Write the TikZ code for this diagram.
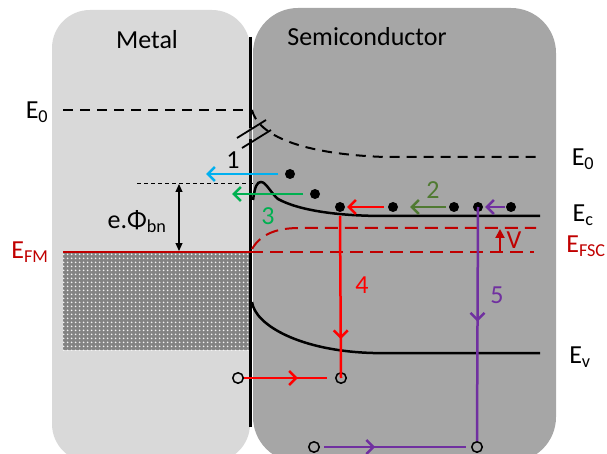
\documentclass[tikz,border=0pt]{standalone}
\usepackage{fontspec}
\setmainfont{Carlito}
\usetikzlibrary{arrows.meta,patterns.meta,decorations.markings}
\definecolor{metalgray}{HTML}{D9D9D9}
\definecolor{semigray}{HTML}{A6A6A6}
\definecolor{dotgray}{HTML}{838383}
\definecolor{darkred}{HTML}{C00000}
\definecolor{brightred}{HTML}{FF0000}
\definecolor{cyanarr}{HTML}{00B0F0}
\definecolor{greenarr}{HTML}{00B050}
\definecolor{dkgreen}{HTML}{507A32}
\definecolor{purplearr}{HTML}{7030A0}
\tikzdeclarepattern{name=mydots, type=uncolored,
  bounding box={(-2pt,-2pt) and (2pt,2pt)}, tile size={(4pt,4pt)},
  code={\fill (0pt,0pt) circle (1.2pt);}}
\begin{document}
\begin{tikzpicture}[x=1pt,y=-1pt,
  lbl/.style={font=\fontsize{26}{29}\selectfont, inner sep=0pt},
  electron/.style={circle,fill=black,inner sep=0pt,minimum size=10pt},
  hole/.style={circle,draw=black,line width=1.5pt,inner sep=0pt,minimum size=10.5pt},
  barb/.style={-{Straight Barb[length=7pt,width=14pt]}},
  midbarb/.style={postaction={decorate},decoration={markings,
      mark=at position #1 with {\arrow{Straight Barb[length=7pt,width=14pt]}}}},
  band/.style={line width=2.5pt},
  vac/.style={line width=2pt,dash pattern=on 10pt off 7pt},
  fermi/.style={darkred,line width=2pt,dash pattern=on 13pt off 7pt},
  carrier/.style={line width=2.5pt}
]
\useasboundingbox (0,0) rectangle (607,454);
\begin{scope}
\clip (0,0) rectangle (607,454);
% boxes
\fill[metalgray, rounded corners=38pt] (52,10) rectangle (250,462);
\fill[semigray, rounded corners=45pt] (253,8) rectangle (556,462);
\end{scope}
% metal filled states
\fill[dotgray] (63,253) rectangle (250,350);
\fill[pattern=mydots, pattern color=white!90!dotgray] (63,253) rectangle (250,350);
% interface
\draw[line width=3pt] (250,37) -- (250,427);
\draw[line width=3pt, gray] (250,128) -- (250,139);
\draw[line width=1.8pt] (237,138) -- (266,120);
\draw[line width=1.8pt] (242,148) -- (271,130);
% labels
\node[lbl] (metal) at (147,40) {Metal};
\node[lbl] (semi) at (367,37) {Semiconductor};
\node[lbl] (e0m) at (37,112) {E\textsubscript{0}};
\node[lbl] (e0s) at (583,159) {E\textsubscript{0}};
\node[lbl] (ec) at (583,215) {E\textsubscript{c}};
\node[lbl,text=darkred] (efsc) at (586,246) {E\textsubscript{FSC}};
\node[lbl] (ev) at (580,357) {E\textsubscript{v}};
\node[lbl,text=darkred] (efm) at (30,252) {E\textsubscript{FM}};
\node[lbl] (phi) at (137,222) {e.Φ\textsubscript{bn}};
% vacuum levels
\draw[vac] (63,110) -- (250,110);
\draw[vac] (252,110) .. controls (258,135) and (300,154) .. (385,157) -- (540,157);
% barrier reference
\draw[line width=0.8pt, dash pattern=on 4pt off 3pt] (137,183) -- (253,183);
\coordinate (phitop) at (179,184);
\coordinate (phibot) at (179,251);
\draw[line width=1.2pt, {Triangle[length=8pt,width=7pt]}-{Triangle[length=8pt,width=7pt]}] (phitop) -- (phibot);
% metal Fermi level
\draw[darkred, line width=2.5pt] (63,252) -- (250,252);
% semiconductor Fermi levels
\draw[fermi] (250,252) -- (534,252);
\draw[fermi] (252,249) .. controls (262,232) and (280,228) .. (300,228) -- (536,228);
% bands
\draw[band] (253,200) .. controls (255,186) and (257,182) .. (261,182)
  .. controls (266,182) and (270,192) .. (278,199)
  .. controls (300,211) and (340,216) .. (385,216) -- (540,216);
\draw[band] (252,302) .. controls (255,325) and (300,351) .. (373,353) -- (540,353);
% V
\coordinate (vbot) at (500,252);
\coordinate (vtop) at (500,229);
\draw[darkred, line width=2pt, -{Triangle[length=9pt,width=9pt]}] (vbot) -- (vtop);
\node[lbl,text=darkred] (nV) at (514,240) {V};
% electrons
\node[electron] (e1) at (290,174) {};
\node[electron] (e2) at (315,194) {};
\node[electron] (e3) at (340,207) {};
\node[electron] (e4) at (393,207) {};
\node[electron] (e5) at (454,207) {};
\node[electron] (e6) at (478,207) {};
\node[electron] (e7) at (511,207) {};
% holes
\node[hole] (h1) at (238,378) {};
\node[hole] (h2) at (341,378) {};
\node[hole] (h3) at (314,447) {};
\node[hole] (h4) at (477,447) {};
% process 1 and 3
\coordinate (c1s) at (278,174);
\coordinate (c1e) at (206,174);
\draw[carrier, cyanarr, barb] (c1s) -- (c1e);
\node[lbl] (n1) at (233,160) {1};
\coordinate (c3s) at (303,194);
\coordinate (c3e) at (232,194);
\draw[carrier, greenarr, barb] (c3s) -- (c3e);
\node[lbl,text=greenarr] (n3) at (268,216) {3};
% process 2
\draw[carrier, brightred, barb] ([xshift=-4pt]e4.west) -- ([xshift=2pt]e3.east);
\coordinate (c2e) at (410,207);
\draw[carrier, dkgreen, barb] ([xshift=-3pt]e5.west) -- (c2e);
\node[lbl,text=dkgreen] (n2) at (433,190) {2};
\draw[carrier, purplearr, barb] ([xshift=-1pt]e7.west) -- ([xshift=2pt]e6.east);
% process 4
\coordinate (c4s) at (340,216);
\draw[carrier, brightred, midbarb=0.76] (c4s) -- ([yshift=-6pt]h2.north);
\node[lbl,text=brightred] (n4) at (362,285) {4};
\draw[carrier, brightred, midbarb=0.65] (h1.east) -- ([xshift=-8pt]h2.west);
% process 5
\draw[carrier, purplearr, midbarb=0.49] (e6.center) -- (h4.north);
\node[lbl,text=purplearr] (n5) at (497,295) {5};
\draw[carrier, purplearr, midbarb=0.36] ([xshift=4pt]h3.east) -- ([xshift=-5pt]h4.west);
\end{tikzpicture}
\end{document}
